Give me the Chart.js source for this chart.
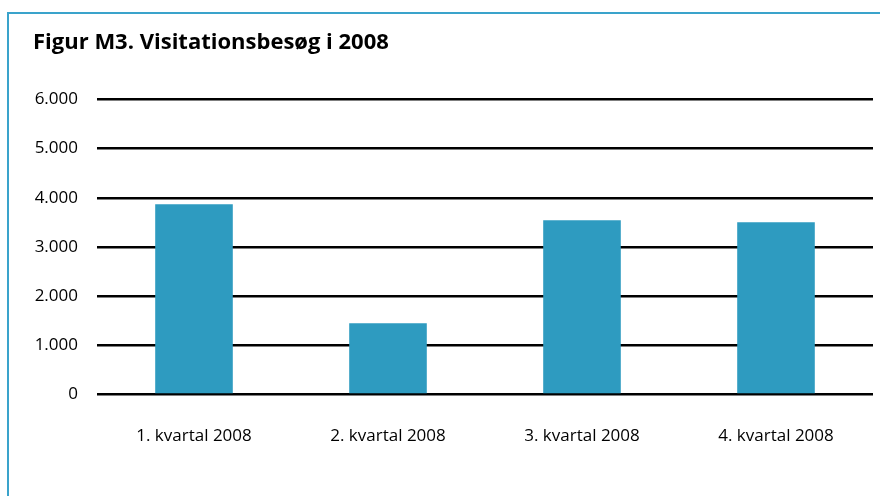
<!DOCTYPE html>
<html>
<head>
<meta charset="utf-8">
<script src="https://cdn.jsdelivr.net/npm/chart.js@4"></script>
<style>
  html, body { margin: 0; padding: 0; background: #fff; }
  #wrap { position: relative; width: 880px; height: 496px; }
  #frame { position: absolute; left: 7px; top: 12px; right: 0; bottom: 0;
           border-top: 2px solid #3aa3cb; border-left: 2px solid #3aa3cb; }
  canvas { position: absolute; left: 0; top: 0; }
</style>
</head>
<body>
<div id="wrap">
  <div id="frame"></div>
  <canvas id="chart" width="880" height="496"></canvas>
</div>
<script>
const titleText = 'Figur M3. Visitationsbesøg i 2008';
const categories = ['1. kvartal 2008', '2. kvartal 2008', '3. kvartal 2008', '4. kvartal 2008'];
const visits = [3870, 1450, 3545, 3505];
const yTicks = [0, 1000, 2000, 3000, 4000, 5000, 6000];

const fontFamily = '"Open Sans", Lato, sans-serif';

const ctx = document.getElementById('chart').getContext('2d');
const chart = new Chart(ctx, {
  type: 'bar',
  data: {
    labels: categories,
    datasets: [{
      data: visits,
      backgroundColor: '#2e9bc0',
      categoryPercentage: 0.8,
      barPercentage: 0.5
    }]
  },
  options: {
    responsive: false,
    animation: false,
    devicePixelRatio: 1,
    layout: { padding: { left: 33, right: 7, top: 0, bottom: 19 } },
    plugins: {
      legend: { display: false },
      tooltip: { enabled: false },
      title: {
        display: true,
        text: titleText,
        align: 'start',
        color: '#000',
        font: { family: fontFamily, size: 22, weight: 'bold' },
        padding: { top: 30, bottom: 43 }
      }
    },
    scales: {
      x: {
        grid: { display: false, drawTicks: false },
        border: { display: false },
        ticks: {
          color: '#000',
          font: { family: fontFamily, size: 17 },
          padding: 31,
          maxRotation: 0
        }
      },
      y: {
        min: 0,
        max: 6000,
        afterBuildTicks: s => { s.ticks = yTicks.map(v => ({ value: v })); },
        afterFit: s => { s.width = 64; },
        grid: { color: '#000', lineWidth: 2.5, drawTicks: false },
        border: { display: false },
        ticks: {
          color: '#000',
          font: { family: fontFamily, size: 17 },
          padding: 19,
          callback: v => v.toLocaleString('da-DK')
        }
      }
    }
  }
});
</script>
</body>
</html>
